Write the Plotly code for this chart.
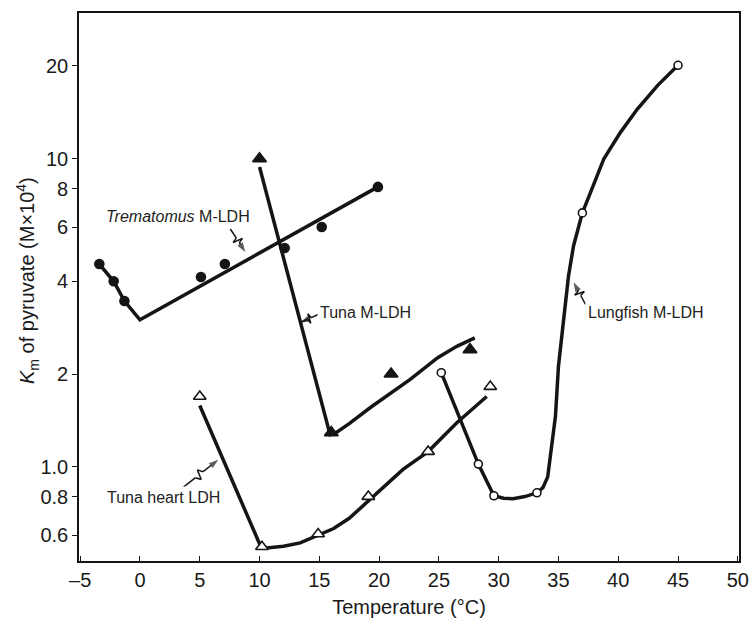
import math
import plotly.graph_objects as go

# ---- data ----
trem_x = [-3.4, -2.2, -1.3, 5.1, 7.1, 12.1, 15.2, 19.9]
trem_y = [4.55, 4.0, 3.45, 4.13, 4.55, 5.13, 6.0, 8.1]
trem_line_x = [-3.4, -2.2, -1.3, 0.0, 19.9]
trem_line_y = [4.55, 4.0, 3.45, 3.0, 8.1]

tunam_x = [10.0, 16.0, 21.0, 27.6]
tunam_y = [10.0, 1.29, 2.0, 2.4]
tunam_line_x = [10.0, 15.9, 16.4, 17.5, 19.3, 21.0, 22.6, 24.9, 26.5, 28.0]
tunam_line_y = [9.4, 1.27, 1.29, 1.38, 1.56, 1.74, 1.92, 2.26, 2.46, 2.62]

tunah_x = [5.0, 10.2, 14.9, 19.1, 24.1, 29.3]
tunah_y = [1.69, 0.55, 0.605, 0.80, 1.12, 1.82]
tunah_line_x = [5.0, 10.15, 10.6, 12.0, 13.4, 15.0, 16.2, 17.5, 19.2, 22.0, 24.1, 26.5, 29.0]
tunah_line_y = [1.58, 0.545, 0.545, 0.552, 0.566, 0.60, 0.63, 0.68, 0.78, 0.98, 1.12, 1.39, 1.69]

lung_x = [25.2, 28.3, 29.6, 33.2, 37.0, 45.0]
lung_y = [2.02, 1.02, 0.805, 0.823, 6.67, 20.1]
lung_line_x = [25.2, 28.3, 29.6, 30.4, 31.2, 32.2, 33.2, 33.7, 34.1, 34.5, 34.75, 35.0,
               35.3, 35.55, 35.84, 36.26, 37.0, 37.7, 38.8, 40.2, 41.6, 43.3, 45.0]
lung_line_y = [2.02, 1.02, 0.805, 0.79, 0.787, 0.80, 0.823, 0.855, 0.927, 1.2, 1.46, 2.12,
               2.73, 3.4, 4.16, 5.21, 6.67, 7.8, 10.0, 12.2, 14.5, 17.3, 20.1]

x_ticks = [-5, 0, 5, 10, 15, 20, 25, 30, 35, 40, 45, 50]
x_ticktext = ["–5", "0", "5", "10", "15", "20", "25", "30", "35", "40", "45", "50"]
y_ticks = [0.6, 0.8, 1.0, 2, 4, 6, 8, 10, 20]
y_ticktext = ["0.6", "0.8", "1.0", "2", "4", "6", "8", "10", "20"]

# label texts and their centres (data coords)
label_text = ["<i>Trematomus</i> M-LDH", "Tuna M-LDH", "Lungfish M-LDH", "Tuna heart LDH"]
label_x = [3.2, 18.9, 42.3, 1.95]
label_y = [6.47, 3.17, 3.17, 0.792]
# arrow tips (data coords) and tail offsets (pixels)
arrow_tip_x = [8.81, 13.41, 36.26, 6.55]
arrow_tip_y = [4.98, 2.94, 3.97, 1.054]
arrow_dx = [-15, 18, 12, -38]
arrow_dy = [-23, -8, 22, 30]

INK = "#151515"
FONT = "Liberation Sans, Arial, sans-serif"

# plot geometry
W, H = 754, 618
ML, MR, MT, MB = 79, 15, 13, 57
XR = [-5.1, 50.1]
YR = [-0.306, 1.473]
PW, PH = W - ML - MR, H - MT - MB

fig = go.Figure()


def add_line(xs, ys):
    fig.add_trace(go.Scatter(x=xs, y=ys, mode="lines",
                             line=dict(color=INK, width=3.5), showlegend=False,
                             hoverinfo="skip"))


def add_markers(xs, ys, symbol, size, filled):
    fig.add_trace(go.Scatter(
        x=xs, y=ys, mode="markers", showlegend=False,
        marker=dict(symbol=symbol, size=size,
                    color=INK if filled else "white",
                    line=dict(color=INK, width=1.6))))


add_line(trem_line_x, trem_line_y)
add_line(tunam_line_x, tunam_line_y)
add_line(tunah_line_x, tunah_line_y)
add_line(lung_line_x, lung_line_y)

add_markers(trem_x, trem_y, "circle", 9, True)
add_markers(tunam_x, tunam_y, "triangle-up", 12, True)
add_markers(tunah_x, tunah_y, "triangle-up", 11, False)
add_markers(lung_x, lung_y, "circle", 8, False)

for txt, x, y in zip(label_text, label_x, label_y):
    fig.add_annotation(x=x, y=math.log10(y), text=txt, showarrow=False,
                       xanchor="center", yanchor="middle",
                       bgcolor="white", borderpad=2,
                       font=dict(size=16, color="#222", family=FONT))


# zigzag ("lightning") leader arrows
def d2p(x, y):
    px = ML + (x - XR[0]) / (XR[1] - XR[0]) * PW
    py = MT + (YR[1] - math.log10(y)) / (YR[1] - YR[0]) * PH
    return px, py


def p2d(px, py):
    x = XR[0] + (px - ML) / PW * (XR[1] - XR[0])
    y = 10 ** (YR[1] - (py - MT) / PH * (YR[1] - YR[0]))
    return x, y


for tx, ty, dx, dy in zip(arrow_tip_x, arrow_tip_y, arrow_dx, arrow_dy):
    tpx, tpy = d2p(tx, ty)
    spx, spy = tpx + dx, tpy + dy
    L = math.hypot(dx, dy)
    ux, uy = -dx / L, -dy / L          # unit vector tail -> tip
    nx, ny = -uy, ux                   # perpendicular
    z = 5.0
    pts = [
        (spx, spy),
        (spx + ux * L * 0.40, spy + uy * L * 0.40),
        (spx + ux * L * 0.47 + nx * z, spy + uy * L * 0.47 + ny * z),
        (spx + ux * L * 0.53 - nx * z, spy + uy * L * 0.53 - ny * z),
        (spx + ux * L * 0.60, spy + uy * L * 0.60),
        (tpx, tpy),
    ]
    dpts = [p2d(a, b) for a, b in pts]
    fig.add_trace(go.Scatter(
        x=[p[0] for p in dpts], y=[p[1] for p in dpts], mode="lines+markers",
        line=dict(color=INK, width=1.5), showlegend=False, hoverinfo="skip",
        marker=dict(symbol=["circle"] * 5 + ["arrow"], size=[0] * 5 + [10],
                    angleref="previous", color=INK, line=dict(width=0))))

# y-axis title placed as a rotated annotation (finer position control)
fig.add_annotation(
    xref="paper", yref="paper", x=(27 - ML) / PW, y=(H - MB - 281) / PH,
    text="<i>K</i><sub>m</sub> of pyruvate (M×10<sup>4</sup>)", textangle=-90,
    showarrow=False, xanchor="center", yanchor="middle",
    font=dict(size=20, color="#1a1a1a", family=FONT))

fig.update_layout(
    width=W, height=H,
    margin=dict(l=ML, r=MR, t=MT, b=MB),
    paper_bgcolor="white", plot_bgcolor="white",
    font=dict(family=FONT, size=20, color="#1a1a1a"),
    showlegend=False,
    xaxis=dict(range=XR, tickvals=x_ticks, ticktext=x_ticktext, automargin=False,
               showgrid=False, zeroline=False, showline=True, mirror=True,
               linecolor=INK, linewidth=1.6, ticks="inside", ticklen=5,
               tickcolor=INK, tickfont=dict(size=20),
               title=dict(text="Temperature (°C)", font=dict(size=20), standoff=11)),
    yaxis=dict(type="log", range=YR, tickvals=y_ticks, automargin=False,
               ticktext=y_ticktext, showgrid=False, zeroline=False,
               showline=True, mirror=True, linecolor=INK, linewidth=1.6,
               ticks="outside", ticklen=5, tickcolor=INK, tickfont=dict(size=20)),
)

fig.write_html(
    "out.html",
    config={"displayModeBar": False},
    post_script="document.body.style.margin='0';document.body.style.overflow='hidden';"
                "window.dispatchEvent(new Event('resize'));",
)
